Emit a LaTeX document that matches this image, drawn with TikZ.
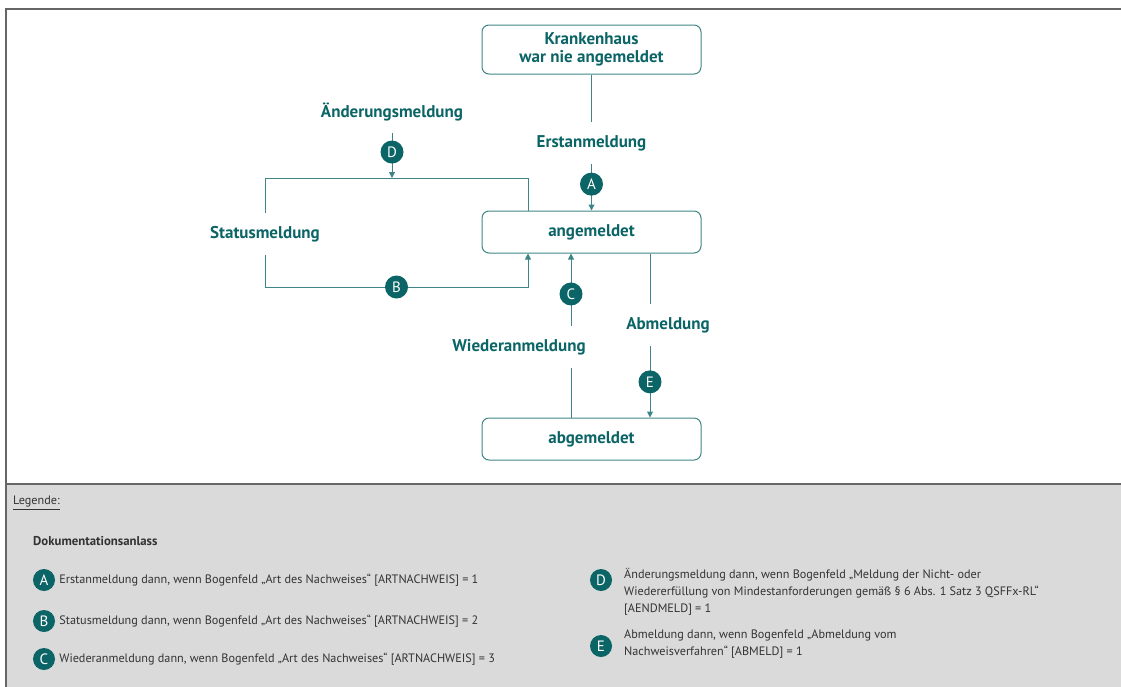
\documentclass[tikz,border=0pt]{standalone}
\usepackage{fontspec}
\setmainfont{PT Sans}
\usetikzlibrary{positioning,arrows.meta}

\definecolor{qteal}{HTML}{0B6466}
\definecolor{qline}{HTML}{3F8486}
\definecolor{qgray}{HTML}{DADADA}
\definecolor{qframe}{HTML}{666666}

\begin{document}
\begin{tikzpicture}[x=1pt,y=-1pt,
  state/.style={draw=qline, line width=1pt, rounded corners=7pt, minimum width=219pt,
    minimum height=42pt, align=center, text=qteal, font=\bfseries\fontsize{17}{18.5}\selectfont},
  event/.style={text=qteal, minimum height=42pt, inner sep=0pt, font=\bfseries\fontsize{17}{18}\selectfont},
  badge/.style={circle, fill=qteal, text=white, minimum size=23pt, inner sep=0pt, font=\fontsize{15}{15}\selectfont},
  flow/.style={draw=qline, line width=1pt},
  tip/.style={-{Triangle[length=6pt,width=6pt]}},
  legtext/.style={anchor=west, align=left, inner sep=0pt, text=black!80, font=\fontsize{12.2}{17}\selectfont}
]
  \useasboundingbox (0,0) rectangle (1121,686);

  % frame and legend area
  \fill[qgray] (6,484) rectangle (1125,690);
  \draw[qframe, line width=1.2pt] (1125,9) -- (6,9) -- (6,690);
  \draw[qframe, line width=1.2pt] (6,484) -- (1125,484);

  % states
  \node[state, minimum height=49pt] (kh) at (591.5,49.5) {Krankenhaus\\war nie angemeldet};
  \node[state] (ang) at (591.5,232) {angemeldet};
  \node[state] (abg) at (591.5,439) {abgemeldet};

  % events
  \node[event] (erst) at (591.5,143) {Erstanmeldung};
  \node[event] (aend) at (392,112) {Änderungsmeldung};
  \node[event] (status) at (265,234) {Statusmeldung};
  \node[event] (wieder) at (519,347) {Wiederanmeldung};
  \node[event] (abm) at (668,325) {Abmeldung};

  \coordinate (lt) at (265,178);
  \coordinate (lb) at (265,287);
  \coordinate (dtop) at (392,178);
  \coordinate (rx) at (528,0);
  \coordinate (cw) at (571,0);
  \coordinate (ce) at (650,0);

  % connectors
  \draw[flow] (kh) -- (erst);
  \draw[flow,tip] (erst) -- node[badge,pos=0.43] (bA) {A} (ang);

  \draw[flow,tip] (aend) -- node[badge,pos=0.42] (bD) {D} (dtop);
  \draw[flow] (ang.north -| rx) |- (lt) -- (status);
  \draw[flow,tip] (status) -- (lb) -| node[badge,pos=0.25] (bB) {B} (ang.south -| rx);

  \draw[flow] (abg.north -| cw) -- (wieder.south -| cw);
  \draw[flow,tip] (wieder.north -| cw) -- node[badge,pos=0.44] (bC) {C} (ang.south -| cw);

  \draw[flow] (ang.south -| ce) -- (abm.north -| ce);
  \draw[flow,tip] (abm.south -| ce) -- node[badge,pos=0.5] (bE) {E} (abg.north -| ce);

  % legend
  \node[legtext] (leg) at (13,503) {\underline{Legende:}};
  \node[legtext, font=\bfseries\fontsize{12.8}{16}\selectfont] (doku) at (33,541) {Dokumentationsanlass};

  \node[badge, minimum size=22pt] (la) at (44,580) {A};
  \node[legtext, right=4pt of la] (ta) {Erstanmeldung dann, wenn Bogenfeld „Art des Nachweises“ [ARTNACHWEIS] = 1};
  \node[badge, minimum size=22pt] (lbB) at (44,621) {B};
  \node[legtext, right=4pt of lbB] (tb) {Statusmeldung dann, wenn Bogenfeld „Art des Nachweises“ [ARTNACHWEIS] = 2};
  \node[badge, minimum size=22pt] (lc) at (44,659) {C};
  \node[legtext, right=4pt of lc] (tc) {Wiederanmeldung dann, wenn Bogenfeld „Art des Nachweises“ [ARTNACHWEIS] = 3};

  \node[badge, minimum size=22pt] (ld) at (601,580) {D};
  \node[legtext, anchor=north west] (td) at (624,568) {Änderungsmeldung dann, wenn Bogenfeld „Meldung der Nicht- oder\\Wiedererfüllung von Mindestanforderungen gemäß § 6 Abs. 1 Satz 3 QSFFx-RL“\\{}[AENDMELD] = 1};
  \node[badge, minimum size=22pt] (le) at (601,646) {E};
  \node[legtext, anchor=north west] (te) at (624,630) {Abmeldung dann, wenn Bogenfeld „Abmeldung vom\\Nachweisverfahren“ [ABMELD] = 1};
\end{tikzpicture}
\end{document}
